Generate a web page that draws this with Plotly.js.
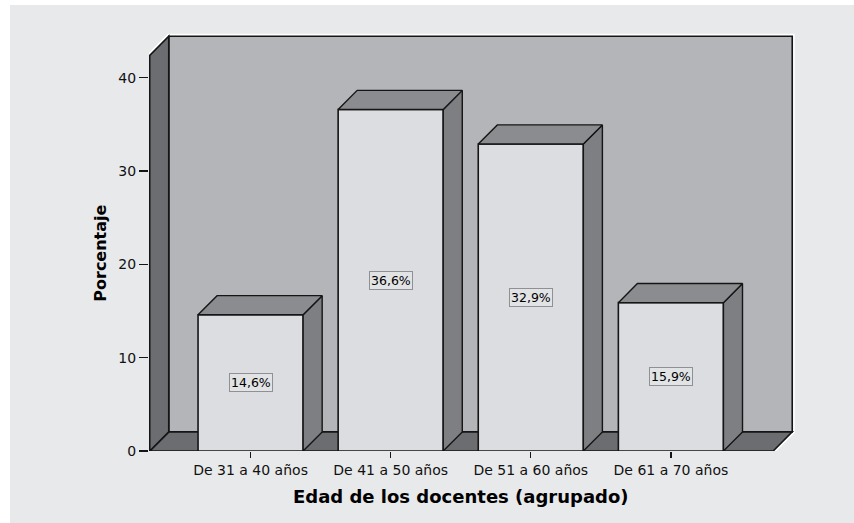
<!DOCTYPE html>
<html>
<head>
<meta charset="utf-8">
<script src="https://cdn.plot.ly/plotly-3.0.1.min.js"></script>
<style>
  html, body { margin: 0; padding: 0; background: #ffffff; width: 854px; height: 523px; overflow: hidden; }
  #chart { position: absolute; left: 10px; top: 5px; width: 844px; height: 518px; }
</style>
</head>
<body>
<div id="chart"></div>
<script>
// ---- data ----
const categories = ['De 31 a 40 años', 'De 41 a 50 años', 'De 51 a 60 años', 'De 61 a 70 años'];
const percentages = [14.6, 36.6, 32.9, 15.9];
const valueLabels = ['14,6%', '36,6%', '32,9%', '15,9%'];
const yTickValues = [0, 10, 20, 30, 40];

// ---- 3D box styling (depth offset in axis units) ----
const DX = 0.136, DY = 2.05;
const X0 = -0.72, X1 = 3.73, YTOP = 42.4;
const HALF = 0.375;
const EDGE = '#151515';
const C_PANEL = '#e8e9eb', C_BACK = '#b4b5b8', C_WALL = '#6c6d70';
const C_FRONT = '#dcdde0', C_TOP = '#8b8c8f', C_SIDE = '#7e7f82';

const xs = categories.map((_, i) => i);

function poly(pts) {
  return 'M' + pts.map(p => p[0] + ',' + p[1]).join(' L') + ' Z';
}

const traces = [];
traces.push({
  type: 'bar', x: xs, y: percentages, width: 0.75,
  marker: { color: C_FRONT, line: { color: EDGE, width: 1.6 } },
  hoverinfo: 'skip', showlegend: false
});
xs.forEach((c, i) => {
  const v = percentages[i];
  const L = c - HALF, R = c + HALF;
  traces.push({
    type: 'scatter', mode: 'lines', fill: 'toself', fillcolor: C_SIDE,
    x: [R, R, R + DX, R + DX, R], y: [0, v, v + DY, DY, 0],
    line: { color: EDGE, width: 1.4 }, hoverinfo: 'skip', showlegend: false
  });
  traces.push({
    type: 'scatter', mode: 'lines', fill: 'toself', fillcolor: C_TOP,
    x: [L, R, R + DX, L + DX, L], y: [v, v, v + DY, v + DY, v],
    line: { color: EDGE, width: 1.4 }, hoverinfo: 'skip', showlegend: false
  });
});

const shapes = [
  { type: 'path', layer: 'below', xref: 'x', yref: 'y',
    path: poly([[X0, 0], [X0, YTOP], [X0 + DX, YTOP + DY], [X1 + DX, YTOP + DY], [X1 + DX, DY], [X1, 0]]),
    fillcolor: '#ffffff', line: { color: '#ffffff', width: 5 } },
  { type: 'path', layer: 'below', xref: 'x', yref: 'y',
    path: poly([[X0 + DX, DY], [X1 + DX, DY], [X1 + DX, YTOP + DY], [X0 + DX, YTOP + DY]]),
    fillcolor: C_BACK, line: { color: EDGE, width: 1.6 } },
  { type: 'path', layer: 'below', xref: 'x', yref: 'y',
    path: poly([[X0, 0], [X1, 0], [X1 + DX, DY], [X0 + DX, DY]]),
    fillcolor: C_WALL, line: { color: EDGE, width: 1.6 } },
  { type: 'path', layer: 'below', xref: 'x', yref: 'y',
    path: poly([[X0, 0], [X0, YTOP], [X0 + DX, YTOP + DY], [X0 + DX, DY]]),
    fillcolor: C_WALL, line: { color: EDGE, width: 1.6 } }
];

const annotations = xs.map((c, i) => ({
  x: c, y: percentages[i] / 2, xref: 'x', yref: 'y',
  text: valueLabels[i], showarrow: false,
  font: { family: 'DejaVu Sans, sans-serif', size: 12.5, color: '#000000' },
  bgcolor: '#e2e3e5', bordercolor: '#8f9093', borderwidth: 1, borderpad: 1
}));
annotations.push({
  text: '<b>Porcentaje</b>', xref: 'paper', yref: 'paper', x: -0.0761, y: 0.4736,
  textangle: -90, showarrow: false, xanchor: 'center', yanchor: 'middle',
  font: { family: 'DejaVu Sans, sans-serif', size: 16, color: '#000000' }
});
annotations.push({
  text: '<b>Edad de los docentes (agrupado)</b>', xref: 'paper', yref: 'paper', x: 0.4814, y: -0.110,
  showarrow: false, xanchor: 'center', yanchor: 'middle',
  font: { family: 'DejaVu Sans, sans-serif', size: 18, color: '#000000' }
});

const layout = {
  width: 844, height: 518,
  paper_bgcolor: C_PANEL, plot_bgcolor: C_PANEL,
  margin: { l: 139.3, r: 57.2, t: 27.9, b: 72, pad: 0 },
  showlegend: false,
  xaxis: {
    type: 'linear', range: [-0.725, 3.9], tickmode: 'array', tickvals: xs, ticktext: categories,
    showgrid: false, zeroline: false, showline: false,
    ticks: 'outside', ticklen: 6, tickwidth: 1.3, tickcolor: EDGE,
    tickfont: { family: 'DejaVu Sans, sans-serif', size: 14, color: '#111111' }
  },
  yaxis: {
    range: [0, 44.8], tickmode: 'array', tickvals: yTickValues,
    showgrid: false, zeroline: false, showline: false,
    ticks: 'outside', ticklen: 9, tickwidth: 1.3, tickcolor: EDGE,
    tickfont: { family: 'DejaVu Sans, sans-serif', size: 14, color: '#111111' }
  },
  shapes: shapes,
  annotations: annotations
};

Plotly.newPlot('chart', traces, layout, { staticPlot: true, displayModeBar: false });
</script>
</body>
</html>
